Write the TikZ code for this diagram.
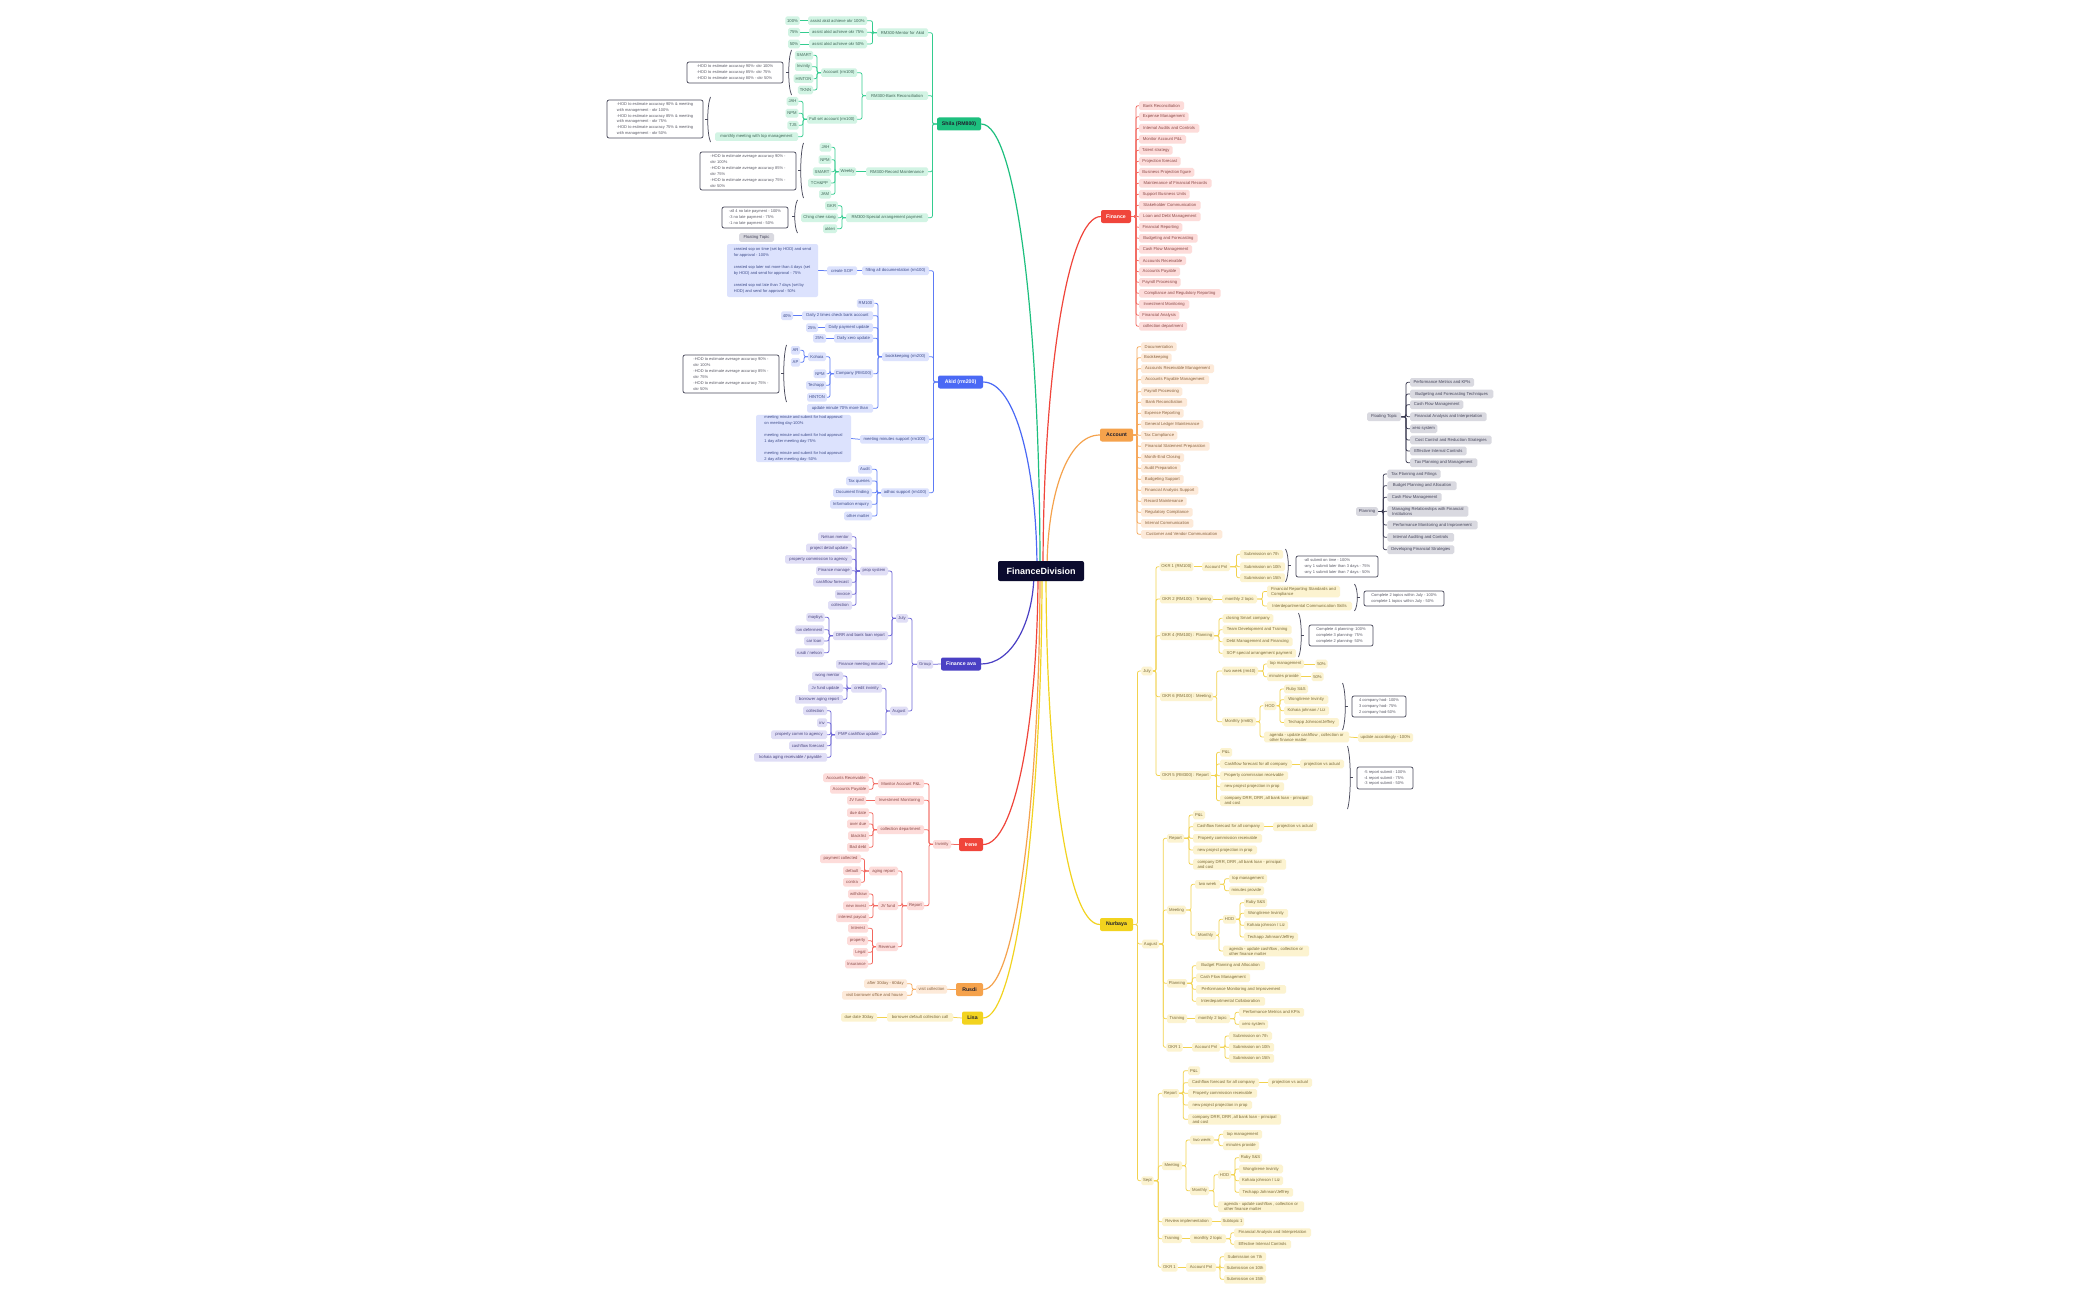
\documentclass[tikz,border=0pt]{standalone}
\usepackage{fontspec}
\setmainfont{Liberation Sans}
\usetikzlibrary{backgrounds}
\definecolor{cgF}{HTML}{D2F4E4}\definecolor{cgL}{HTML}{33CC8F}\definecolor{cgR}{HTML}{1DBF7E}\definecolor{cgT}{HTML}{3F6657}
\definecolor{cbF}{HTML}{DCE2FD}\definecolor{cbL}{HTML}{5D7BF5}\definecolor{cbR}{HTML}{4A69F5}\definecolor{cbT}{HTML}{3E4C8A}
\definecolor{ciF}{HTML}{E0DEF6}\definecolor{ciL}{HTML}{6E66D6}\definecolor{ciR}{HTML}{4A40C4}\definecolor{ciT}{HTML}{4A4680}
\definecolor{crF}{HTML}{FDDCDA}\definecolor{crL}{HTML}{F2675E}\definecolor{crR}{HTML}{F0453B}\definecolor{crT}{HTML}{8A4A48}
\definecolor{coF}{HTML}{FDEAD9}\definecolor{coL}{HTML}{F6A85A}\definecolor{coR}{HTML}{F5A24C}\definecolor{coT}{HTML}{8A6440}
\definecolor{cyF}{HTML}{FCF3D0}\definecolor{cyL}{HTML}{F2D24E}\definecolor{cyR}{HTML}{F2D31F}\definecolor{cyT}{HTML}{7A6A3A}
\definecolor{ckF}{HTML}{D9D9E0}\definecolor{ckL}{HTML}{3A3A50}\definecolor{ckT}{HTML}{45455A}
\definecolor{cdk}{HTML}{1F1F2E}\definecolor{cnavy}{HTML}{0B0B2E}\definecolor{cbox}{HTML}{4A4A5C}\definecolor{cboxT}{HTML}{5A5A66}
\newcommand\fs{\fontsize{4.2}{5}\selectfont}
\newcommand\fcall{\fontsize{4}{5.9}\selectfont}
\newcommand\nd[6]{\pgfmathsetmacro\ndw{#4-#3}\pgfmathsetmacro\ndx{(#3+#4)/2}\node[#1,minimum width=\ndw pt] (#2) at (\ndx,#5) {#6};}
\newcommand\cbox[7]{\pgfmathsetmacro\ndw{#4-#3}\pgfmathsetmacro\ndh{#6-#5}\pgfmathsetmacro\ndx{(#3+#4)/2}\pgfmathsetmacro\ndy{(#5+#6)/2}\node[#1,minimum width=\ndw pt,minimum height=\ndh pt] (#2) at (\ndx,\ndy) {#7};}
\newcommand\lcon[4]{\foreach \cc in {#4}{\draw[#1] (#2.west) -- (#3,0 |- #2.west) |- (\cc.east);}}
\newcommand\rcon[4]{\foreach \cc in {#4}{\draw[#1] (#2.east) -- (#3,0 |- #2.east) |- (\cc.west);}}
\newcommand\lbr[3]{\pgfmathsetmacro\bm{(#2+#3)/2}\pgfmathsetmacro\bh{(#3-#2)*0.18}\draw[brc] (#1+2.5,#2) .. controls (#1-1.2,#2+\bh) and (#1-1.2,#3-\bh) .. (#1+2.5,#3);\draw[brc] (#1-0.3,\bm) -- (#1-3,\bm);}
\newcommand\rbr[3]{\pgfmathsetmacro\bm{(#2+#3)/2}\pgfmathsetmacro\bh{(#3-#2)*0.18}\draw[brc] (#1-2.5,#2) .. controls (#1+1.2,#2+\bh) and (#1+1.2,#3-\bh) .. (#1-2.5,#3);\draw[brc] (#1+0.3,\bm) -- (#1+3,\bm);}
\tikzset{
 nb/.style={rounded corners=1.6pt, inner xsep=1.8pt, inner ysep=1.3pt, minimum height=8.6pt, font=\fs, align=left},
 nG/.style={nb, fill=cgF, text=cgT}, nB/.style={nb, fill=cbF, text=cbT}, nI/.style={nb, fill=ciF, text=ciT},
 nR/.style={nb, fill=crF, text=crT}, nO/.style={nb, fill=coF, text=coT}, nY/.style={nb, fill=cyF, text=cyT},
 nK/.style={nb, fill=ckF, text=ckT},
 tb/.style={rounded corners=2pt, inner xsep=3pt, inner ysep=1pt, minimum height=13pt, font=\fontsize{5.2}{6}\selectfont\bfseries},
 tG/.style={tb, fill=cgR, text=cdk}, tB/.style={tb, fill=cbR, text=white}, tI/.style={tb, fill=ciR, text=white},
 tR/.style={tb, fill=crR, text=white}, tO/.style={tb, fill=coR, text=cdk}, tY/.style={tb, fill=cyR, text=cdk},
 cn/.style={line width=0.75pt, rounded corners=2pt},
 lG/.style={cn, draw=cgL}, lB/.style={cn, draw=cbL}, lI/.style={cn, draw=ciL}, lR/.style={cn, draw=crL},
 lO/.style={cn, draw=coL}, lY/.style={cn, draw=cyL}, lK/.style={cn, draw=ckL},
 mn/.style={line width=1.2pt},
 mG/.style={mn, draw=cgR}, mB/.style={mn, draw=cbR}, mI/.style={mn, draw=ciR}, mR/.style={mn, draw=crR},
 mO/.style={mn, draw=coR}, mY/.style={mn, draw=cyR},
 brc/.style={draw=cbox, line width=0.75pt},
 call/.style={draw=cbox, line width=0.75pt, rounded corners=2pt, fill=white, font=\fcall, text=cboxT, align=left, inner xsep=3pt, inner ysep=1pt},
 bcall/.style={fill=cbF, rounded corners=2pt, font=\fcall, text=cbT, align=left, inner xsep=3pt, inner ysep=1pt},
}
\begin{document}
\begin{tikzpicture}[x=1pt,y=-1pt]
\useasboundingbox (0,0) rectangle (2100,1300);
\node[fill=cnavy, text=white, font=\fontsize{9}{10}\selectfont\bfseries, rounded corners=2pt, minimum width=86pt, minimum height=20pt] (root) at (1041,571) {FinanceDivision};
% ===== Shila (green)
\nd{tG}{sh}{937}{981}{124}{Shila (RM800)}
\nd{nG}{g1}{877}{928}{32.7}{RM300-Mentor for Akid}
\nd{nG}{g2}{866}{928}{95.7}{RM300-Bank Reconciliation}
\nd{nG}{g3}{866}{928}{171.7}{RM300-Record Maintenance}
\nd{nG}{g4}{846}{928}{217.7}{RM300-Special arrangement payment}
\nd{nG}{g11}{808}{867}{20.7}{assist akid achieve okr 100\%}
\nd{nG}{g12}{809}{867}{32.3}{assist akid achieve okr 75\%}
\nd{nG}{g13}{809}{867}{44}{assist akid achieve okr 50\%}
\nd{nG}{g111}{786}{799}{20.7}{100\%}
\nd{nG}{g121}{788}{800}{32.3}{75\%}
\nd{nG}{g131}{788}{800}{44}{50\%}
\nd{nG}{g21}{821}{857}{72.7}{Account (rm100)}
\nd{nG}{g22}{807}{857}{119.3}{Full set account (rm100)}
\nd{nG}{g211}{796}{812}{55.3}{SMART}
\nd{nG}{g212}{795}{812}{66.7}{Invinity}
\nd{nG}{g213}{795}{812}{78.7}{HINTON}
\nd{nG}{g214}{799}{812}{90}{TKNN}
\nd{nG}{g221}{787}{798}{101.3}{JAH}
\nd{nG}{g222}{786}{798}{113.3}{NPM}
\nd{nG}{g223}{788}{798}{125.3}{TJS}
\nd{nG}{g224}{715}{798}{136.7}{monthly meeting with top management}
\nd{nG}{g31}{839}{856}{171.7}{Weekly}
\nd{nG}{g311}{820}{831}{147.3}{JAH}
\nd{nG}{g312}{819}{831}{159.7}{NPM}
\nd{nG}{g313}{813}{831}{171.7}{SMART}
\nd{nG}{g314}{808}{831}{183}{TCH\&PP}
\nd{nG}{g315}{819}{831}{194.3}{JAM}
\nd{nG}{g41}{826}{837}{205.7}{GKR}
\nd{nG}{g42}{801}{838}{217.7}{Ching chee siong}
\nd{nG}{g43}{823}{837}{228.7}{akleri}
\cbox{call}{cg1}{687}{783}{62}{83}{-HOD to estimate accuracy 90\%- okr 100\%\\-HOD to estimate accuracy 85\%- okr 75\%\\-HOD to estimate accuracy 80\% - okr 50\%}
\lbr{789}{50}{95}
\cbox{call}{cg2}{607}{703}{100}{138}{-HOD to estimate accuracy 90\% \& meeting\\with management - okr 100\%\\-HOD to estimate accuracy 85\% \& meeting\\with management - okr 75\%\\-HOD to estimate accuracy 75\% \& meeting\\with management - okr 50\%}
\lbr{708}{97}{142}
\cbox{call}{cg3}{700}{796}{152}{190}{-HOD to estimate average accuracy 90\% -\\okr 100\%\\-HOD to estimate average accuracy 85\% -\\okr 75\%\\-HOD to estimate average accuracy 75\% -\\okr 50\%}
\lbr{801}{143}{198}
\cbox{call}{cg4}{722}{788}{207}{228}{-all 4 no late payment - 100\%\\-3 no late payment - 75\%\\-1 no late payment - 50\%}
\lbr{795}{200}{233}
\nd{nK}{ft1}{739}{774}{237.5}{Floating Topic}
% ===== Akid (blue)
\nd{tB}{ak}{938}{983}{382}{Akid (rm200)}
\nd{nB}{b1}{862}{929}{270.7}{filling all documentation (rm100)}
\nd{nB}{b2}{882}{929}{356.7}{bookkeeping (rm200)}
\nd{nB}{b3}{860}{929}{439.3}{meeting minutes support (rm100)}
\nd{nB}{b4}{881}{929}{492.7}{adhoc support (rm100)}
\nd{nB}{b11}{827}{857}{270.7}{create SOP}
\cbox{bcall}{cb1}{727}{818}{244}{297}{created sop on time (set by HOD) and send\\for approval - 100\%\\[5.9pt]created sop later not more than 4 days (set\\by HOD) and send for approval - 75\%\\[5.9pt]created sop not late than 7 days (set by\\HOD) and send for approval - 50\%}
\nd{nB}{b21}{858}{873}{303.3}{RM100}
\nd{nB}{b22}{802}{873}{315.7}{Daily 2 times check bank account}
\nd{nB}{b23}{825}{873}{327.7}{Daily payment update}
\nd{nB}{b24}{834}{873}{338.3}{Daily xero update}
\nd{nB}{b25}{834}{873}{373.7}{Company (RM100)}
\nd{nB}{b26}{807}{873}{408.3}{update minute 70\% more than}
\nd{nB}{b221}{781}{793}{315.7}{40\%}
\nd{nB}{b231}{806}{818}{327.7}{25\%}
\nd{nB}{b241}{813}{826}{338.3}{25\%}
\nd{nB}{b251}{808}{826}{356.7}{Kohaia}
\nd{nB}{b252}{814}{826}{373.7}{NPM}
\nd{nB}{b253}{806}{826}{385.3}{Techapp}
\nd{nB}{b254}{808}{826}{397.3}{HINTON}
\nd{nB}{b2511}{791}{800}{350.3}{AR}
\nd{nB}{b2512}{791}{800}{362.3}{AP}
\cbox{call}{cb2}{683}{779}{355}{393}{-HOD to estimate average accuracy 90\% -\\okr 100\%\\-HOD to estimate average accuracy 85\% -\\okr 75\%\\-HOD to estimate average accuracy 75\% -\\okr 50\%}
\lbr{784}{345}{402}
\cbox{bcall}{cb3}{756}{851}{415}{462}{meeting minute and submit for hod approval\\on meeting day-100\%\\[5.9pt]meeting minute and submit for hod approval\\1 day after meeting day-75\%\\[5.9pt]meeting minute and submit for hod approval\\2 day after meeting day- 50\%}
\nd{nB}{b41}{858}{872}{469.3}{Audit}
\nd{nB}{b42}{846}{872}{481}{Tax queries}
\nd{nB}{b43}{833}{872}{492.7}{Document finding}
\nd{nB}{b44}{830}{872}{504.3}{Information enquiry}
\nd{nB}{b45}{844}{872}{516}{other matter}
% ===== Finance ava (indigo)
\nd{tI}{fa}{941}{981}{664}{Finance ava}
\nd{nI}{i1}{917}{933}{664.3}{Group}
\nd{nI}{i11}{896}{908}{618.3}{July}
\nd{nI}{i12}{890}{908}{711}{August}
\nd{nI}{i111}{860}{888}{571}{prop system}
\nd{nI}{i112}{833}{888}{635.7}{DRR and bank loan report}
\nd{nI}{i113}{836}{888}{664.3}{Finance meeting minutes}
\nd{nI}{ia1}{818}{852}{536.7}{Nelson mentor}
\nd{nI}{ia2}{806}{852}{548}{project detail update}
\nd{nI}{ia3}{785}{852}{559.3}{property commission to agency}
\nd{nI}{ia4}{816}{852}{570.7}{Finance manage}
\nd{nI}{ia5}{813}{852}{582.3}{cashflow forecast}
\nd{nI}{ia6}{835}{852}{594.3}{invoice}
\nd{nI}{ia7}{828}{852}{605.3}{collection}
\nd{nI}{ib1}{807}{824}{617.3}{maybys}
\nd{nI}{ib2}{795}{824}{629.7}{ion deferment}
\nd{nI}{ib3}{804}{824}{641}{car loan}
\nd{nI}{ib4}{795}{824}{652.7}{rusdi / nelson}
\nd{nI}{i121}{851}{882}{688.3}{credit invinity}
\nd{nI}{i122}{835}{882}{734.7}{PMP cashflow update}
\nd{nI}{ic1}{812}{843}{676}{wong mentor}
\nd{nI}{ic2}{808}{843}{688}{Jv fund update}
\nd{nI}{ic3}{795}{843}{699.3}{borrower aging report}
\nd{nI}{id1}{803}{827}{710.7}{collection}
\nd{nI}{id2}{817}{827}{722.7}{inv}
\nd{nI}{id3}{771}{827}{734.7}{property comm to agency}
\nd{nI}{id4}{789}{827}{745.7}{cashflow forecast}
\nd{nI}{id5}{754}{827}{757.3}{kohaia aging receivable / payable}
% ===== Irene (red)
\nd{tR}{ir}{959}{983}{844.5}{Irene}
\nd{nR}{r1}{933}{951}{844.3}{Invinity}
\nd{nR}{r11}{878}{924}{783.7}{Monitor Account P\&L}
\nd{nR}{r12}{875}{924}{800.3}{Investment Monitoring}
\nd{nR}{r13}{877}{924}{829.7}{collection department}
\nd{nR}{r14}{907}{924}{905.7}{Report}
\nd{nR}{ra1}{823}{869}{777.7}{Accounts Receivable}
\nd{nR}{ra2}{830}{869}{789.3}{Accounts Payable}
\nd{nR}{rb1}{847}{866}{800.3}{JV fund}
\nd{nR}{rc1}{847}{869}{812.7}{due date}
\nd{nR}{rc2}{847}{869}{824}{over due}
\nd{nR}{rc3}{848}{869}{835.7}{blacklist}
\nd{nR}{rc4}{847}{869}{847.3}{Bad debt}
\nd{nR}{r141}{869}{898}{871}{aging report}
\nd{nR}{r142}{878}{898}{905.7}{JV fund}
\nd{nR}{r143}{876}{898}{946.7}{Revenue}
\nd{nR}{rd1}{820}{861}{858.7}{payment collected}
\nd{nR}{rd2}{843}{861}{870.7}{default}
\nd{nR}{rd3}{843}{861}{882.3}{contra}
\nd{nR}{re1}{848}{869}{894}{withdraw}
\nd{nR}{re2}{843}{869}{905.7}{new invest}
\nd{nR}{re3}{836}{869}{917.7}{interest payout}
\nd{nR}{rf1}{848}{868}{928.3}{Interest}
\nd{nR}{rf2}{847}{868}{940.7}{property}
\nd{nR}{rf3}{853}{868}{952.3}{Legal}
\nd{nR}{rf4}{845}{868}{964}{Insurance}
% ===== Rusdi (orange)
\nd{tO}{ru}{956}{983}{989.5}{Rusdi}
\nd{nO}{o1}{916}{947}{989.3}{visit collection}
\nd{nO}{o11}{864}{907}{983.7}{after 30day - 60day}
\nd{nO}{o12}{842}{907}{995.3}{visit borrower office and house}
% ===== Lisa (yellow)
\nd{tY}{li}{962}{983}{1018}{Lisa}
\nd{nY}{y1}{887}{953}{1017.3}{borrower default collection call}
\nd{nY}{y11}{841}{877}{1017.3}{due date 30day}
% ===== Finance (red, right)
\nd{tR}{fi}{1101}{1131}{216.5}{Finance}
\nd{nR}{fn1}{1139}{1184}{105.7}{Bank Reconciliation}
\nd{nR}{fn2}{1139}{1188.7}{116.7}{Expense Management}
\nd{nR}{fn3}{1139}{1199.3}{128.3}{Internal Audits and Controls}
\nd{nR}{fn4}{1139}{1186}{139.3}{Monitor Account P\&L}
\nd{nR}{fn5}{1139}{1172.7}{150.3}{Talent strategy}
\nd{nR}{fn6}{1139}{1180.7}{161.3}{Projection forecast}
\nd{nR}{fn7}{1139}{1194.3}{172.3}{Business Projection figure}
\nd{nR}{fn8}{1139}{1211.7}{183.3}{Maintenance of Financial Records}
\nd{nR}{fn9}{1139}{1189.7}{194.3}{Support Business Units}
\nd{nR}{fn10}{1139}{1200.7}{205.3}{Stakeholder Communication}
\nd{nR}{fn11}{1139}{1200.7}{216.7}{Loan and Debt Management}
\nd{nR}{fn12}{1139}{1182.3}{227.3}{Financial Reporting}
\nd{nR}{fn13}{1139}{1197.7}{238.3}{Budgeting and Forecasting}
\nd{nR}{fn14}{1139}{1192}{249.3}{Cash Flow Management}
\nd{nR}{fn15}{1139}{1186}{260.7}{Accounts Receivable}
\nd{nR}{fn16}{1139}{1180}{271.7}{Accounts Payable}
\nd{nR}{fn17}{1139}{1180.7}{282.3}{Payroll Processing}
\nd{nR}{fn18}{1139}{1220.7}{293.3}{Compliance and Regulatory Reporting}
\nd{nR}{fn19}{1139}{1189.3}{304.3}{Investment Monitoring}
\nd{nR}{fn20}{1139}{1179.3}{315.3}{Financial Analysis}
\nd{nR}{fn21}{1139}{1187}{326.3}{collection department}
% ===== Account (orange, right)
\nd{tO}{ac}{1100}{1133}{435}{Account}
\nd{nO}{an1}{1141}{1176.7}{346.7}{Documentation}
\nd{nO}{an2}{1141}{1171.7}{357.7}{Bookkeeping}
\nd{nO}{an3}{1141}{1214}{368.7}{Accounts Receivable Management}
\nd{nO}{an4}{1141}{1209}{379.7}{Accounts Payable Management}
\nd{nO}{an5}{1141}{1182.3}{391.7}{Payroll Processing}
\nd{nO}{an6}{1141}{1187}{402.3}{Bank Reconciliation}
\nd{nO}{an7}{1141}{1183.7}{413.3}{Expense Reporting}
\nd{nO}{an8}{1141}{1203.3}{424.3}{General Ledger Maintenance}
\nd{nO}{an9}{1141}{1177.3}{435.3}{Tax Compliance}
\nd{nO}{an10}{1141}{1209.7}{446.3}{Financial Statement Preparation}
\nd{nO}{an11}{1141}{1184}{457.7}{Month-End Closing}
\nd{nO}{an12}{1141}{1180.7}{468.3}{Audit Preparation}
\nd{nO}{an13}{1141}{1183.7}{479.3}{Budgeting Support}
\nd{nO}{an14}{1141}{1198.3}{490.3}{Financial Analysis Support}
\nd{nO}{an15}{1141}{1186.7}{501.3}{Record Maintenance}
\nd{nO}{an16}{1141}{1192.7}{512.3}{Regulatory Compliance}
\nd{nO}{an17}{1141}{1193.3}{523.3}{Internal Communication}
\nd{nO}{an18}{1141}{1222.3}{534.3}{Customer and Vendor Communication}
% ===== Floating topic / Planning (gray)
\nd{nK}{ft2}{1367}{1401}{416.7}{Floating Topic}
\nd{nK}{fk1}{1410}{1474}{382.3}{Performance Metrics and KPIs}
\nd{nK}{fk2}{1410}{1493.3}{394}{Budgeting and Forecasting Techniques}
\nd{nK}{fk3}{1410}{1463.3}{404.7}{Cash Flow Management}
\nd{nK}{fk4}{1410}{1486.7}{416.7}{Financial Analysis and Interpretation}
\nd{nK}{fk5}{1410}{1437.3}{428.7}{xero system}
\nd{nK}{fk6}{1410}{1491.7}{440}{Cost Control and Reduction Strategies}
\nd{nK}{fk7}{1410}{1466.7}{451}{Effective Internal Controls}
\nd{nK}{fk8}{1410}{1477.3}{462.7}{Tax Planning and Management}
\nd{nK}{pl}{1356}{1378}{511.5}{Planning}
\nd{nK}{pk1}{1387.3}{1440.7}{474}{Tax Planning and Filings}
\nd{nK}{pk2}{1387.3}{1456.7}{485.7}{Budget Planning and Allocation}
\nd{nK}{pk3}{1387.3}{1441.7}{497.3}{Cash Flow Management}
\nd{nK}{pk4}{1387.3}{1468.3}{511.3}{Managing Relationships with Financial\\Institutions}
\nd{nK}{pk5}{1387.3}{1477.7}{525}{Performance Monitoring and Improvement}
\nd{nK}{pk6}{1387.3}{1454}{537.3}{Internal Auditing and Controls}
\nd{nK}{pk7}{1387.3}{1454.3}{549.7}{Developing Financial Strategies}
% ===== Nurbaya (yellow, right)
\nd{tY}{nu}{1100}{1133}{924.5}{Nurbaya}
\nd{nY}{jl}{1142}{1152}{671}{July}
\nd{nY}{au}{1142}{1159}{944}{August}
\nd{nY}{se}{1142}{1153}{1180.7}{Sept}
% July
\nd{nY}{j1}{1160}{1193}{566.7}{OKR 1 (RM100)}
\nd{nY}{j2}{1160}{1213}{599}{OKR 2 (RM100) : Training}
\nd{nY}{j4}{1160}{1214}{635.7}{OKR 4 (RM100) : Planning}
\nd{nY}{j6}{1160}{1213}{696.7}{OKR 6 (RM100) : Meeting}
\nd{nY}{j5}{1160}{1211}{775.5}{OKR 5 (RM300) : Report}
\nd{nY}{j1a}{1202}{1230}{566.7}{Account Pnl}
\nd{nY}{j1a1}{1240}{1283}{554.3}{Submission on 7th}
\nd{nY}{j1a2}{1240}{1285}{566.7}{Submission on 10th}
\nd{nY}{j1a3}{1240}{1285}{577.7}{Submission on 15th}
\rbr{1288}{549}{582}
\cbox{call}{cj1}{1296}{1378}{556}{577}{-all submit on time - 100\%\\-any 1 submit later than 3 days - 75\%\\-any 1 submit later than 7 days - 50\%}
\nd{nY}{j2a}{1222}{1257}{599}{monthly 2 topic}
\nd{nY}{j2a1}{1267}{1340}{591.5}{Financial Reporting Standards and\\Compliance}
\nd{nY}{j2a2}{1267}{1352}{606}{Interdepartmental Communication Skills}
\rbr{1357}{584}{611}
\cbox{call}{cj2}{1364}{1444}{591}{606}{Complete 2 topics within July - 100\%\\complete 1 topics within July - 50\%}
\nd{nY}{j4a}{1222.7}{1273.3}{618.3}{closing Smart company}
\nd{nY}{j4b}{1222.7}{1291.7}{629.7}{Team Development and Training}
\nd{nY}{j4c}{1222.7}{1292.7}{641.7}{Debt Management and Financing}
\nd{nY}{j4d}{1222.7}{1296}{653.3}{SOP special arrangement payment}
\rbr{1301}{613}{657}
\cbox{call}{cj4}{1309}{1373}{625}{646}{Complete 4 planning- 100\%\\complete 3 planning- 75\%\\complete 2 planning- 50\%}
\nd{nY}{j6a}{1222}{1258}{671}{two week (rm40)}
\nd{nY}{j6b}{1222}{1256}{721.7}{Monthly (rm60)}
\nd{nY}{j6a1}{1267}{1304}{664}{top management}
\nd{nY}{j6a2}{1267}{1301}{676.7}{minutes provide}
\nd{nY}{j6a1x}{1316}{1327}{664}{50\%}
\nd{nY}{j6a2x}{1312}{1323}{676.7}{50\%}
\nd{nY}{j6b1}{1264}{1276}{705.7}{HOD}
\nd{nY}{j6b2}{1264}{1349}{737}{agenda - update cashflow , collection or\\other finance matter}
\nd{nY}{j6b2x}{1358}{1413}{737.7}{update accordingly - 100\%}
\nd{nY}{h1}{1284}{1308}{689}{Ruby S\&S}
\nd{nY}{h2}{1284}{1328.3}{699.7}{Wong/irene Invinity}
\nd{nY}{h3}{1284}{1329}{710.7}{Kohaia johnson / Liz}
\nd{nY}{h4}{1284}{1339}{722.5}{Techapp Johnson/Jeffrey}
\rbr{1345}{683}{730}
\cbox{call}{cj6}{1352}{1406}{696}{717}{4 company hod- 100\%\\3 company hod- 75\%\\2 company hod-50\%}
\nd{nY}{j5a}{1220}{1232}{752.3}{P\&L}
\nd{nY}{j5b}{1220}{1292}{764}{Cashflow forecast for all company}
\nd{nY}{j5c}{1220}{1288}{775.7}{Property commission receivable}
\nd{nY}{j5d}{1220}{1284}{786.7}{new project projection in prop}
\nd{nY}{j5e}{1220}{1313}{800.7}{company DRR, DRR ,all bank loan - principal\\and cost}
\nd{nY}{j5bx}{1300}{1344}{764}{projection vs actual}
\rbr{1350}{746}{809}
\cbox{call}{cj5}{1357}{1413}{767}{789}{-5 report submit - 100\%\\-4 report submit - 75\%\\-3 report submit - 50\%}
% August
\nd{nY}{a1}{1167}{1184}{838.3}{Report}
\nd{nY}{a2}{1167}{1186}{910}{Meeting}
\nd{nY}{a3}{1167}{1187}{983.3}{Planning}
\nd{nY}{a4}{1167}{1187}{1018.7}{Training}
\nd{nY}{a5}{1167}{1182}{1047.3}{OKR 1}
\nd{nY}{a1a}{1193}{1205}{815}{P\&L}
\nd{nY}{a1b}{1193}{1264}{826.7}{Cashflow forecast for all company}
\nd{nY}{a1c}{1193}{1262}{838.3}{Property commission receivable}
\nd{nY}{a1d}{1193}{1257}{850}{new project projection in prop}
\nd{nY}{a1e}{1193}{1286}{864.3}{company DRR, DRR ,all bank loan - principal\\and cost}
\nd{nY}{a1bx}{1273}{1317}{826.7}{projection vs actual}
\nd{nY}{a2a}{1195}{1220}{884.3}{two week}
\nd{nY}{a2b}{1195}{1216}{935.3}{Monthly}
\nd{nY}{a2a1}{1229}{1267}{878.7}{top management}
\nd{nY}{a2a2}{1229}{1264}{890.7}{minutes provide}
\nd{nY}{a2b1}{1223}{1236}{919.3}{HOD}
\nd{nY}{a2b2}{1223}{1309}{951}{agenda - update cashflow , collection or\\other finance matter}
\nd{nY}{ah1}{1244}{1267}{902.7}{Ruby S\&S}
\nd{nY}{ah2}{1244}{1288}{913.3}{Wong/irene Invinity}
\nd{nY}{ah3}{1244}{1288}{925.3}{Kohaia johnson / Liz}
\nd{nY}{ah4}{1244}{1298}{937}{Techapp Johnson/Jeffrey}
\nd{nY}{a3a}{1196}{1265}{965.7}{Budget Planning and Allocation}
\nd{nY}{a3b}{1196}{1250}{977.7}{Cash Flow Management}
\nd{nY}{a3c}{1196}{1286}{989.3}{Performance Monitoring and Improvement}
\nd{nY}{a3d}{1196}{1265}{1001.3}{Interdepartmental Collaboration}
\nd{nY}{a4a}{1195}{1230}{1018.7}{monthly 2 topic}
\nd{nY}{a4a1}{1239}{1304}{1012.3}{Performance Metrics and KPIs}
\nd{nY}{a4a2}{1239}{1268}{1024.3}{xero system}
\nd{nY}{a5a}{1192}{1220}{1047.3}{Account Pnl}
\nd{nY}{a5a1}{1229}{1272}{1036}{Submission on 7th}
\nd{nY}{a5a2}{1229}{1274}{1047.3}{Submission on 10th}
\nd{nY}{a5a3}{1229}{1274}{1058.3}{Submission on 15th}
% Sept
\nd{nY}{s1}{1162}{1179}{1093.3}{Report}
\nd{nY}{s2}{1162}{1182}{1165.7}{Meeting}
\nd{nY}{s3}{1162}{1212}{1221.7}{Review implementation}
\nd{nY}{s4}{1162}{1182}{1238.7}{Training}
\nd{nY}{s5}{1162}{1177}{1267.3}{OKR 1}
\nd{nY}{s1a}{1188}{1200}{1070.7}{P\&L}
\nd{nY}{s1b}{1188}{1259}{1082.7}{Cashflow forecast for all company}
\nd{nY}{s1c}{1188}{1257}{1093.3}{Property commission receivable}
\nd{nY}{s1d}{1188}{1252}{1105}{new project projection in prop}
\nd{nY}{s1e}{1188}{1281}{1119.3}{company DRR, DRR ,all bank loan - principal\\and cost}
\nd{nY}{s1bx}{1268}{1312}{1082.7}{projection vs actual}
\nd{nY}{s2a}{1190}{1214}{1140}{two week}
\nd{nY}{s2b}{1190}{1209}{1190.7}{Monthly}
\nd{nY}{s2a1}{1223}{1262}{1134.3}{top management}
\nd{nY}{s2a2}{1223}{1259}{1145.7}{minutes provide}
\nd{nY}{s2b1}{1218}{1231}{1174.7}{HOD}
\nd{nY}{s2b2}{1218}{1304}{1206.7}{agenda - update cashflow , collection or\\other finance matter}
\nd{nY}{sx1}{1239}{1262}{1157.7}{Ruby S\&S}
\nd{nY}{sx2}{1239}{1283}{1169}{Wong/irene Invinity}
\nd{nY}{sx3}{1239}{1283}{1180.7}{Kohaia johnson / Liz}
\nd{nY}{sx4}{1239}{1293}{1192.3}{Techapp Johnson/Jeffrey}
\nd{nY}{s3a}{1221}{1244}{1221.7}{Subtopic 1}
\nd{nY}{s4a}{1190}{1226}{1238.7}{monthly 2 topic}
\nd{nY}{s4a1}{1234}{1311}{1232.7}{Financial Analysis and Interpretation}
\nd{nY}{s4a2}{1234}{1291}{1244.3}{Effective Internal Controls}
\nd{nY}{s5a}{1186}{1216}{1267.3}{Account Pnl}
\nd{nY}{s5a1}{1224}{1266}{1256.7}{Submission on 7th}
\nd{nY}{s5a2}{1224}{1266}{1267.7}{Submission on 10th}
\nd{nY}{s5a3}{1224}{1266}{1279.3}{Submission on 15th}
% ===== connectors
\begin{pgfonlayer}{background}
\fill[white] (0,0) rectangle (2100,1300);
\draw[mG] ([xshift=-1pt]root.center) .. controls +(0,-250) and +(35,0) .. (sh.east);
\draw[mB] ([xshift=-4pt]root.center) .. controls +(0,-105) and +(32,0) .. (ak.east);
\draw[mR] ([xshift=2pt]root.center) .. controls +(0,-195) and +(-33,0) .. (fi.west);
\draw[mO] ([xshift=6pt]root.center) .. controls +(0,-75) and +(-33,0) .. (ac.west);
\draw[mI] ([xshift=-7pt]root.center) .. controls +(0,52) and +(30,0) .. (fa.east);
\draw[mR] ([xshift=-3pt]root.center) .. controls +(0,150) and +(32,0) .. (ir.east);
\draw[mO] ([xshift=-1pt]root.center) .. controls +(0,230) and +(32,0) .. (ru.east);
\draw[mY] ([xshift=1pt]root.center) .. controls +(0,246) and +(32,0) .. (li.east);
\draw[mY] ([xshift=5pt]root.center) .. controls +(0,195) and +(-33,0) .. (nu.west);
% green
\lcon{lG}{sh}{932.5}{g1,g2,g3,g4}
\lcon{lG}{g1}{872.5}{g11,g12,g13}
\draw[lG] (g11.west) -- (g111.east);
\draw[lG] (g12.west) -- (g121.east);
\draw[lG] (g13.west) -- (g131.east);
\lcon{lG}{g2}{862}{g21,g22}
\lcon{lG}{g21}{817}{g211,g212,g213,g214}
\lcon{lG}{g22}{803}{g221,g222,g223,g224}
\draw[lG] (g3.west) -- (g31.east);
\lcon{lG}{g31}{835}{g311,g312,g313,g314,g315}
\lcon{lG}{g4}{842}{g41,g42,g43}
% blue
\lcon{lB}{ak}{933.5}{b1,b2,b3,b4}
\draw[lB] (b1.west) -- (b11.east);
\draw[lB] (b11.west) -- (cb1.east);
\lcon{lB}{b2}{878}{b21,b22,b23,b24,b25,b26}
\draw[lB] (b22.west) -- (b221.east);
\draw[lB] (b23.west) -- (b231.east);
\draw[lB] (b24.west) -- (b241.east);
\lcon{lB}{b25}{830}{b251,b252,b253,b254}
\lcon{lB}{b251}{804}{b2511,b2512}
\draw[lB] (b3.west) -- (cb3.east);
\lcon{lB}{b4}{877}{b41,b42,b43,b44,b45}
% indigo
\draw[lI] (fa.west) -- (i1.east);
\lcon{lI}{i1}{912}{i11,i12}
\lcon{lI}{i11}{892}{i111,i112,i113}
\lcon{lI}{i111}{856}{ia1,ia2,ia3,ia4,ia5,ia6,ia7}
\lcon{lI}{i112}{829}{ib1,ib2,ib3,ib4}
\lcon{lI}{i12}{886}{i121,i122}
\lcon{lI}{i121}{847}{ic1,ic2,ic3}
\lcon{lI}{i122}{831}{id1,id2,id3,id4,id5}
% red Irene
\draw[lR] (ir.west) -- (r1.east);
\lcon{lR}{r1}{929}{r11,r12,r13,r14}
\lcon{lR}{r11}{873}{ra1,ra2}
\draw[lR] (r12.west) -- (rb1.east);
\lcon{lR}{r13}{873}{rc1,rc2,rc3,rc4}
\lcon{lR}{r14}{902}{r141,r142,r143}
\lcon{lR}{r141}{864.5}{rd1,rd2,rd3}
\lcon{lR}{r142}{873}{re1,re2,re3}
\lcon{lR}{r143}{872.5}{rf1,rf2,rf3,rf4}
% orange / yellow left
\draw[lO] (ru.west) -- (o1.east);
\lcon{lO}{o1}{912}{o11,o12}
\draw[lY] (li.west) -- (y1.east);
\draw[lY] (y1.west) -- (y11.east);
% right side
\rcon{lR}{fi}{1136}{fn1,fn2,fn3,fn4,fn5,fn6,fn7,fn8,fn9,fn10,fn11,fn12,fn13,fn14,fn15,fn16,fn17,fn18,fn19,fn20,fn21}
\rcon{lO}{ac}{1137}{an1,an2,an3,an4,an5,an6,an7,an8,an9,an10,an11,an12,an13,an14,an15,an16,an17,an18}
\rcon{lK}{ft2}{1406}{fk1,fk2,fk3,fk4,fk5,fk6,fk7,fk8}
\rcon{lK}{pl}{1383.3}{pk1,pk2,pk3,pk4,pk5,pk6,pk7}
\rcon{lY}{nu}{1137.5}{jl,au,se}
\rcon{lY}{jl}{1156}{j1,j2,j4,j6,j5}
\draw[lY] (j1.east) -- (j1a.west);
\rcon{lY}{j1a}{1236.5}{j1a1,j1a2,j1a3}
\draw[lY] (j2.east) -- (j2a.west);
\rcon{lY}{j2a}{1262.5}{j2a1,j2a2}
\rcon{lY}{j4}{1219}{j4a,j4b,j4c,j4d}
\rcon{lY}{j6}{1216.7}{j6a,j6b}
\rcon{lY}{j6a}{1263.5}{j6a1,j6a2}
\draw[lY] (j6a1.east) -- (j6a1x.west);
\draw[lY] (j6a2.east) -- (j6a2x.west);
\rcon{lY}{j6b}{1260}{j6b1,j6b2}
\draw[lY] (j6b2.east) -- (j6b2x.west);
\rcon{lY}{j6b1}{1280}{h1,h2,h3,h4}
\rcon{lY}{j5}{1216.5}{j5a,j5b,j5c,j5d,j5e}
\draw[lY] (j5b.east) -- (j5bx.west);
\rcon{lY}{au}{1163.3}{a1,a2,a3,a4,a5}
\rcon{lY}{a1}{1189}{a1a,a1b,a1c,a1d,a1e}
\draw[lY] (a1b.east) -- (a1bx.west);
\rcon{lY}{a2}{1191}{a2a,a2b}
\rcon{lY}{a2a}{1224.5}{a2a1,a2a2}
\rcon{lY}{a2b}{1219}{a2b1,a2b2}
\rcon{lY}{a2b1}{1240}{ah1,ah2,ah3,ah4}
\rcon{lY}{a3}{1192.3}{a3a,a3b,a3c,a3d}
\draw[lY] (a4.east) -- (a4a.west);
\rcon{lY}{a4a}{1235}{a4a1,a4a2}
\draw[lY] (a5.east) -- (a5a.west);
\rcon{lY}{a5a}{1225}{a5a1,a5a2,a5a3}
\rcon{lY}{se}{1158.3}{s1,s2,s3,s4,s5}
\rcon{lY}{s1}{1183.3}{s1a,s1b,s1c,s1d,s1e}
\draw[lY] (s1b.east) -- (s1bx.west);
\rcon{lY}{s2}{1186}{s2a,s2b}
\rcon{lY}{s2a}{1219}{s2a1,s2a2}
\rcon{lY}{s2b}{1214}{s2b1,s2b2}
\rcon{lY}{s2b1}{1235}{sx1,sx2,sx3,sx4}
\draw[lY] (s3.east) -- (s3a.west);
\draw[lY] (s4.east) -- (s4a.west);
\rcon{lY}{s4a}{1230.7}{s4a1,s4a2}
\draw[lY] (s5.east) -- (s5a.west);
\rcon{lY}{s5a}{1220}{s5a1,s5a2,s5a3}
\end{pgfonlayer}
\end{tikzpicture}
\end{document}
